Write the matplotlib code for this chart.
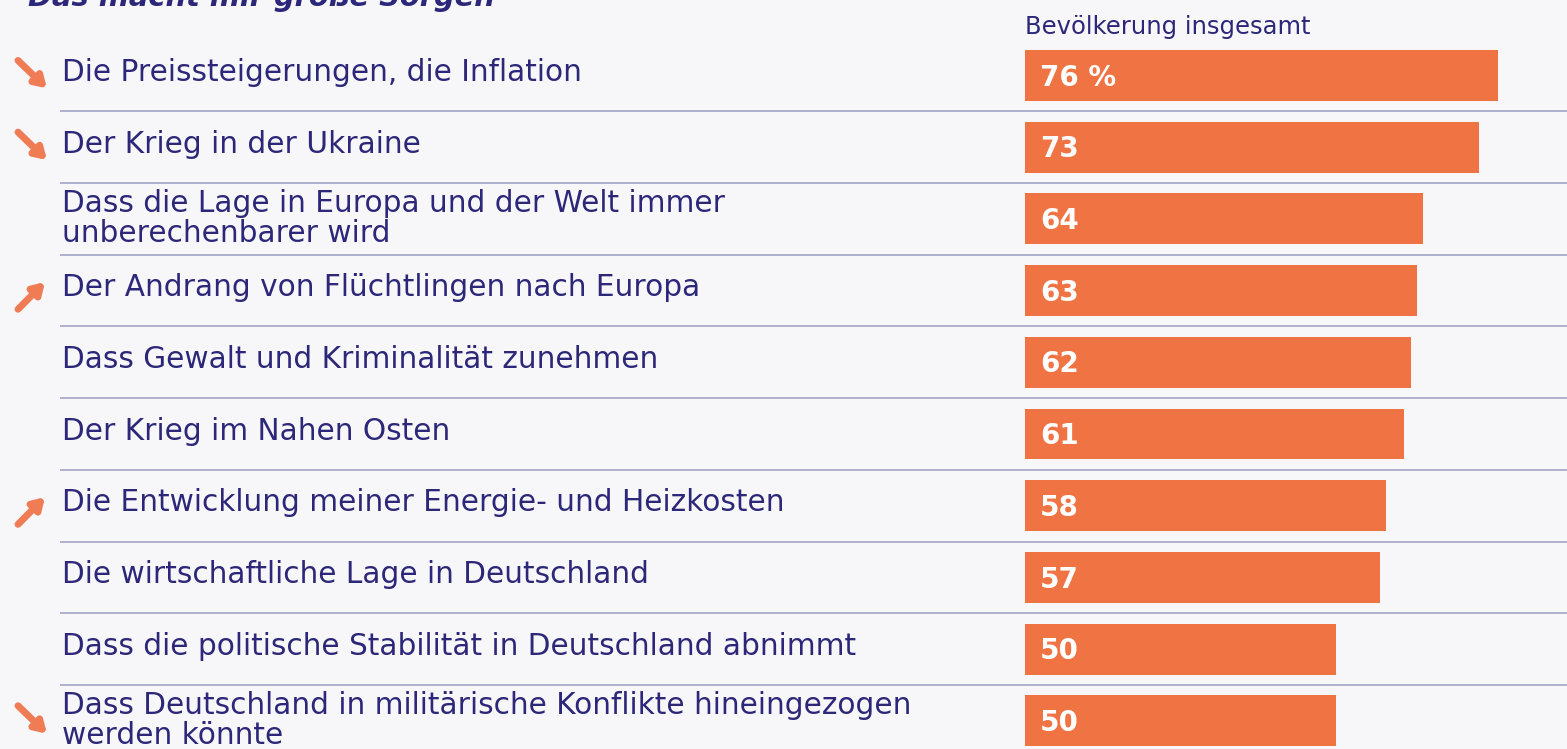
import matplotlib
matplotlib.use("Agg")
import matplotlib.pyplot as plt

labels = [
    "Die Preissteigerungen, die Inflation",
    "Der Krieg in der Ukraine",
    "Dass die Lage in Europa und der Welt immer\nunberechenbarer wird",
    "Der Andrang von Flüchtlingen nach Europa",
    "Dass Gewalt und Kriminalität zunehmen",
    "Der Krieg im Nahen Osten",
    "Die Entwicklung meiner Energie- und Heizkosten",
    "Die wirtschaftliche Lage in Deutschland",
    "Dass die politische Stabilität in Deutschland abnimmt",
    "Dass Deutschland in militärische Konflikte hineingezogen\nwerden könnte",
]
values = [76, 73, 64, 63, 62, 61, 58, 57, 50, 50]
trends = ["down", "down", "", "up", "", "", "up", "", "", "down"]
value_labels = ["76 %", "73", "64", "63", "62", "61", "58", "57", "50", "50"]
title = "Das macht mir große Sorgen"
header = "Bevölkerung insgesamt"

W, H = 1567, 749
BG = "#f7f7f9"
TXT = "#2c2778"
BAR = "#ef7343"
ARROW = "#f07c55"
LINE = "#a3a3c6"
FONT = "DejaVu Sans"

fig = plt.figure(figsize=(W / 100, H / 100), dpi=100, facecolor=BG)

row0, pitch = 75.5, 71.7
ytop = -row0 / pitch
ybot = (H - row0) / pitch

# layout axes (pixel x coords)
lax = fig.add_axes([0, 0, 1, 1])
lax.set_xlim(0, W)
lax.set_ylim(ybot, ytop)
lax.axis("off")
lax.set_facecolor(BG)

# bar axes
bx0 = 1025
bax = fig.add_axes([bx0 / W, 0, (W - bx0) / W, 1])
bax.set_xlim(0, (W - bx0) / 6.22)
bax.set_ylim(ybot, ytop)
bax.axis("off")
bax.patch.set_alpha(0)

n = len(values)
bax.barh(range(n), values, height=0.71, color=BAR, align="center")
for i, vl in enumerate(value_labels):
    bax.text(2.4, i + 0.03, vl, color="white", fontsize=20, fontweight="bold",
             va="center", ha="left", family=FONT)

for i in range(n - 1):
    lax.plot([60, W], [i + 0.5, i + 0.5], color=LINE, lw=1.2, solid_capstyle="butt")

for i, lab in enumerate(labels):
    dy = 0.0 if "\n" in lab else -0.04
    lax.text(62, i + dy, lab, color=TXT, fontsize=21.3, va="center", ha="left",
             family=FONT, linespacing=1.05)
    t = trends[i]
    if t == "down":
        lax.annotate("", xy=(47, i + 0.18), xytext=(18, i - 0.21),
                     arrowprops=dict(arrowstyle="-|>,head_width=0.4,head_length=0.65",
                                     color=ARROW, lw=5, shrinkA=0, shrinkB=0))
    elif t == "up":
        lax.annotate("", xy=(45, i - 0.12), xytext=(18, i + 0.26),
                     arrowprops=dict(arrowstyle="-|>,head_width=0.4,head_length=0.65",
                                     color=ARROW, lw=5, shrinkA=0, shrinkB=0))

lax.text(1025, ytop + 27 / pitch, header, color=TXT, fontsize=17.5, va="center",
         ha="left", family=FONT)
lax.text(28, ytop + 6 / pitch, title, color=TXT, fontsize=20.8, fontweight="bold",
         fontstyle="italic", va="baseline", ha="left", family=FONT)

fig.savefig("out.png", dpi=100, facecolor=BG)
